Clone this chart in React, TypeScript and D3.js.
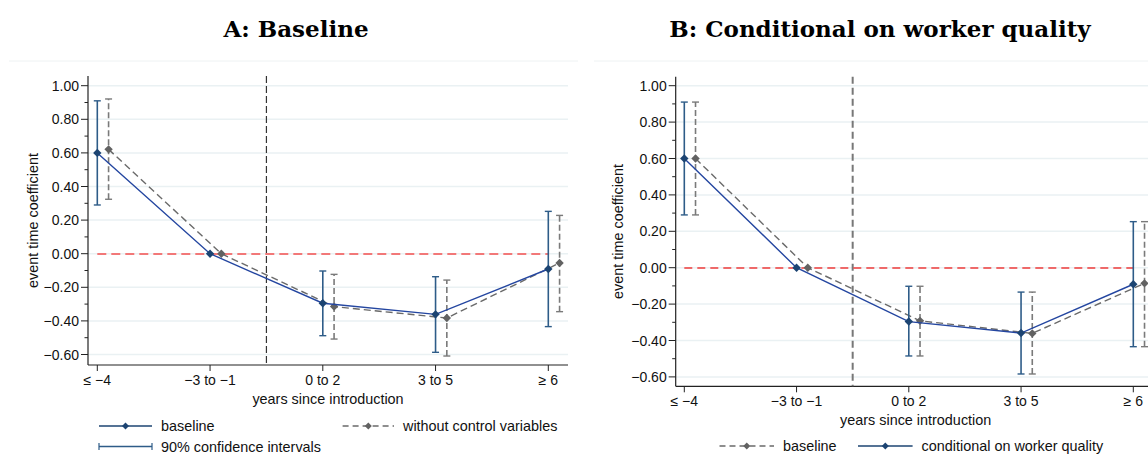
import React, { useRef, useEffect } from "react";
import * as d3 from "d3";

// categories and tick labels
const categories = ["≤ −4", "−3 to −1", "0 to 2", "3 to 5", "≥ 6"];
const yTicks = [-0.6, -0.4, -0.2, 0, 0.2, 0.4, 0.6, 0.8, 1.0];
const yMinor = [-0.5, -0.3, -0.1, 0.1, 0.3, 0.5, 0.7, 0.9];

// panel A: baseline (blue) and without control variables (grey)
const aBase = [0.6, 0, -0.295, -0.361, -0.091];
const aBaseLo = [0.29, null, -0.488, -0.587, -0.434];
const aBaseHi = [0.91, null, -0.103, -0.137, 0.252];
const aNoCtrl = [0.621, 0, -0.315, -0.383, -0.055];
const aNoCtrlLo = [0.324, null, -0.508, -0.609, -0.345];
const aNoCtrlHi = [0.921, null, -0.123, -0.157, 0.228];

// panel B: baseline (grey) and conditional on worker quality (blue)
const bBase = [0.6, 0, -0.292, -0.361, -0.086];
const bBaseLo = [0.29, null, -0.485, -0.584, -0.434];
const bBaseHi = [0.91, null, -0.102, -0.134, 0.253];
const bCond = [0.6, 0, -0.296, -0.359, -0.091];
const bCondLo = [0.29, null, -0.485, -0.584, -0.434];
const bCondHi = [0.91, null, -0.102, -0.134, 0.253];

const NAVY = "#1c4472";
const LINEBLUE = "#2446a0";
const CIBLUE = "#2e5c88";
const GREY = "#626262";
const SANS = "Liberation Sans, Arial, sans-serif";

const fmt = (v: number) => (v < 0 ? "−" : "") + Math.abs(v).toFixed(2);

function diamond(x: number, y: number, r: number) {
  return `M${x},${y - r}L${x + r},${y}L${x},${y + r}L${x - r},${y}Z`;
}

type Series = {
  v: number[];
  lo: (number | null)[];
  hi: (number | null)[];
  grey: boolean;
  off: number;
};

type Panel = {
  left: number;
  right: number;
  top: number;
  bottom: number;
  y1: number; // pixel of 1.00
  y0: number; // pixel of -0.60
  x0: number; // first category
  x4: number; // last category
  series: Series[];
  vline: { color: string; width: number; dash: string };
  zero: { color: string; width: number; dash: string };
  title: string;
  titleX: number;
  yTitleX: number;
};

function drawPanel(svg: any, p: Panel) {
  const x = d3.scaleLinear().domain([0, 4]).range([p.x0, p.x4]);
  const y = d3.scaleLinear().domain([-0.6, 1]).range([p.y0, p.y1]);
  const g = svg.append("g");

  // grid
  g.selectAll("line.grid")
    .data(yTicks)
    .join("line")
    .attr("x1", p.left)
    .attr("x2", p.right)
    .attr("y1", (d: number) => y(d))
    .attr("y2", (d: number) => y(d))
    .attr("stroke", "#eaf1f3")
    .attr("stroke-width", 1.5);

  // axes lines
  g.append("line")
    .attr("x1", p.left).attr("x2", p.left)
    .attr("y1", p.top).attr("y2", p.bottom)
    .attr("stroke", "#222").attr("stroke-width", 1.2);
  g.append("line")
    .attr("x1", p.left).attr("x2", p.right)
    .attr("y1", p.bottom).attr("y2", p.bottom)
    .attr("stroke", "#222").attr("stroke-width", 1.2);

  // y ticks
  g.selectAll("line.ymaj")
    .data(yTicks)
    .join("line")
    .attr("x1", p.left - 7).attr("x2", p.left)
    .attr("y1", (d: number) => y(d)).attr("y2", (d: number) => y(d))
    .attr("stroke", "#222").attr("stroke-width", 1);
  g.selectAll("line.ymin")
    .data(yMinor)
    .join("line")
    .attr("x1", p.left - 3.5).attr("x2", p.left)
    .attr("y1", (d: number) => y(d)).attr("y2", (d: number) => y(d))
    .attr("stroke", "#222").attr("stroke-width", 1);
  g.selectAll("text.ylab")
    .data(yTicks)
    .join("text")
    .attr("x", p.left - 9)
    .attr("y", (d: number) => y(d) + 5)
    .attr("text-anchor", "end")
    .attr("font-family", SANS)
    .attr("font-size", 14)
    .attr("fill", "#111")
    .text((d: number) => fmt(d));

  // x ticks
  g.selectAll("line.xt")
    .data(categories)
    .join("line")
    .attr("x1", (_: string, i: number) => x(i)).attr("x2", (_: string, i: number) => x(i))
    .attr("y1", p.bottom).attr("y2", p.bottom + 6)
    .attr("stroke", "#222").attr("stroke-width", 1);
  g.selectAll("text.xlab")
    .data(categories)
    .join("text")
    .attr("x", (_: string, i: number) => x(i))
    .attr("y", p.bottom + 20)
    .attr("text-anchor", "middle")
    .attr("font-family", SANS)
    .attr("font-size", 14)
    .attr("fill", "#111")
    .text((d: string) => d);

  g.append("text")
    .attr("x", (p.left + Math.min(p.right, 568 + p.left - 88)) / 2)
    .attr("y", p.bottom + 39)
    .attr("text-anchor", "middle")
    .attr("font-family", SANS)
    .attr("font-size", 14.4)
    .attr("fill", "#111")
    .text("years since introduction");
  g.append("text")
    .attr("transform", `translate(${p.yTitleX},${(p.top + p.bottom) / 2}) rotate(-90)`)
    .attr("dy", "0.35em")
    .attr("text-anchor", "middle")
    .attr("font-family", SANS)
    .attr("font-size", 14.4)
    .attr("fill", "#111")
    .text("event time coefficient");

  g.append("text")
    .attr("x", p.titleX)
    .attr("y", 37)
    .attr("text-anchor", "middle")
    .attr("font-family", "DejaVu Serif, serif")
    .attr("font-weight", "bold")
    .attr("font-size", 23)
    .attr("fill", "#000")
    .text(p.title);

  // reference lines
  g.append("line")
    .attr("x1", x(1.5)).attr("x2", x(1.5))
    .attr("y1", p.top).attr("y2", p.bottom)
    .attr("stroke", p.vline.color).attr("stroke-width", p.vline.width)
    .attr("stroke-dasharray", p.vline.dash);
  g.append("line")
    .attr("x1", x(0)).attr("x2", x(4))
    .attr("y1", Math.round(y(0))).attr("y2", Math.round(y(0)))
    .attr("stroke", p.zero.color).attr("stroke-width", p.zero.width)
    .attr("stroke-dasharray", p.zero.dash);

  // series: grey first so blue sits on top
  const ordered = [...p.series].sort((a, b) => (a.grey === b.grey ? 0 : a.grey ? -1 : 1));
  ordered.forEach((s) => {
    const line = d3
      .line<number>()
      .x((_, i) => x(i + s.off))
      .y((d) => y(d));
    g.append("path")
      .attr("d", line(s.v))
      .attr("fill", "none")
      .attr("stroke", s.grey ? "#6a6a6a" : LINEBLUE)
      .attr("stroke-width", 1.4)
      .attr("stroke-dasharray", s.grey ? "7,4" : null);

    const ci = s.v
      .map((_, i) => ({ i, lo: s.lo[i], hi: s.hi[i] }))
      .filter((d) => d.lo !== null && d.hi !== null) as { i: number; lo: number; hi: number }[];
    const ciColor = s.grey ? "#7a7a7a" : CIBLUE;
    g.selectAll(null)
      .data(ci)
      .join("line")
      .attr("x1", (d: any) => x(d.i + s.off)).attr("x2", (d: any) => x(d.i + s.off))
      .attr("y1", (d: any) => y(d.lo)).attr("y2", (d: any) => y(d.hi))
      .attr("stroke", ciColor).attr("stroke-width", 1.6)
      .attr("stroke-dasharray", s.grey ? "6,3" : null);
    ["lo", "hi"].forEach((k) => {
      g.selectAll(null)
        .data(ci)
        .join("line")
        .attr("x1", (d: any) => x(d.i + s.off) - 3.5).attr("x2", (d: any) => x(d.i + s.off) + 3.5)
        .attr("y1", (d: any) => y(d[k])).attr("y2", (d: any) => y(d[k]))
        .attr("stroke", ciColor).attr("stroke-width", 1.4);
    });

    g.selectAll(null)
      .data(s.v)
      .join("path")
      .attr("d", (d: number, i: number) => diamond(x(i + s.off), y(d), 4.2))
      .attr("fill", s.grey ? GREY : NAVY);
  });
}

function legendItem(svg: any, x1: number, x2: number, yy: number, grey: boolean, label: string, ci = false) {
  const g = svg.append("g");
  const col = grey ? "#6a6a6a" : NAVY;
  g.append("line")
    .attr("x1", x1).attr("x2", x2).attr("y1", yy).attr("y2", yy)
    .attr("stroke", ci ? CIBLUE : col).attr("stroke-width", 1.4)
    .attr("stroke-dasharray", grey ? "6,4" : null);
  if (ci) {
    [x1, x2].forEach((cx) =>
      g.append("line")
        .attr("x1", cx).attr("x2", cx).attr("y1", yy - 3.5).attr("y2", yy + 3.5)
        .attr("stroke", CIBLUE).attr("stroke-width", 1.2)
    );
  } else {
    g.append("path")
      .attr("d", diamond((x1 + x2) / 2, yy, 3.5))
      .attr("fill", grey ? GREY : NAVY);
  }
  g.append("text")
    .attr("x", x2 + 9)
    .attr("y", yy + 5)
    .attr("font-family", SANS)
    .attr("font-size", 14.4)
    .attr("fill", "#111")
    .text(label);
}

export default function App() {
  const ref = useRef<SVGSVGElement>(null);
  useEffect(() => {
    const svg = d3.select(ref.current);
    svg.selectAll("*").remove();
    svg.append("rect").attr("width", 1148).attr("height", 458).attr("fill", "#fff");

    // faint frame tops
    svg.append("line").attr("x1", 9).attr("x2", 578).attr("y1", 61).attr("y2", 61)
      .attr("stroke", "#eef2f3").attr("stroke-width", 1);
    svg.append("line").attr("x1", 594).attr("x2", 1148).attr("y1", 61).attr("y2", 61)
      .attr("stroke", "#eef2f3").attr("stroke-width", 1);

    drawPanel(svg, {
      left: 88, right: 568, top: 76, bottom: 365,
      y1: 85.7, y0: 354.5, x0: 97.3, x4: 548.3,
      series: [
        { v: aBase, lo: aBaseLo, hi: aBaseHi, grey: false, off: 0 },
        { v: aNoCtrl, lo: aNoCtrlLo, hi: aNoCtrlHi, grey: true, off: 0.1 },
      ],
      vline: { color: "#333", width: 1.2, dash: "7,3" },
      zero: { color: "#f27878", width: 2, dash: "9,5" },
      title: "A: Baseline",
      titleX: 296,
      yTitleX: 33,
    });
    drawPanel(svg, {
      left: 675.7, right: 1160, top: 76.7, bottom: 386.3,
      y1: 85.7, y0: 376.9, x0: 684.3, x4: 1133.3,
      series: [
        { v: bBase, lo: bBaseLo, hi: bBaseHi, grey: true, off: 0.1 },
        { v: bCond, lo: bCondLo, hi: bCondHi, grey: false, off: 0 },
      ],
      vline: { color: "#777", width: 2, dash: "7,4" },
      zero: { color: "#ee3b3b", width: 1.5, dash: "8,5" },
      title: "B: Conditional on worker quality",
      titleX: 880,
      yTitleX: 618,
    });

    legendItem(svg, 99, 152, 426, false, "baseline");
    legendItem(svg, 342.6, 394, 426, true, "without control variables");
    legendItem(svg, 99, 152, 446.5, false, "90% confidence intervals", true);
    legendItem(svg, 719.5, 774, 446, true, "baseline");
    legendItem(svg, 858, 912.6, 446, false, "conditional on worker quality");
  }, []);

  return (
    <div style={{ position: "absolute", left: 0, top: 0 }}>
      <svg ref={ref} width={1148} height={458} style={{ display: "block" }}></svg>
    </div>
  );
}
